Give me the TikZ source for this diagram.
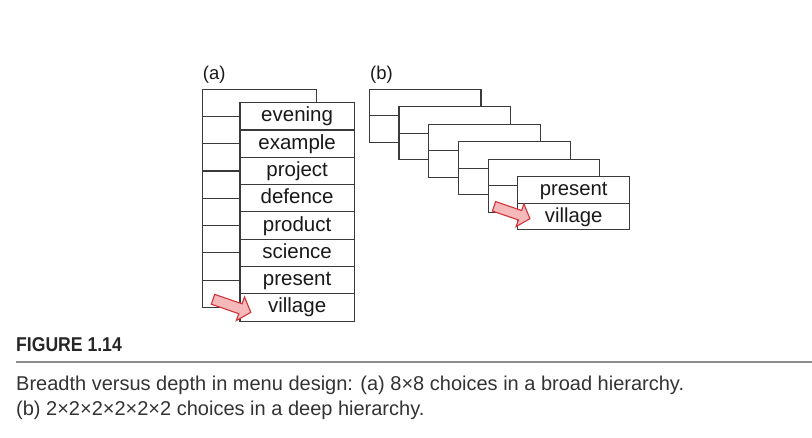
\documentclass[tikz,border=0pt]{standalone}
\usepackage{fontspec}
\setmainfont{Liberation Sans}
\newfontfamily\figfont[FakeStretch=0.88]{Liberation Sans}
\begin{document}
\definecolor{boxline}{HTML}{3A3A3A}
\definecolor{arrowfill}{HTML}{F5B9B9}
\definecolor{arrowline}{HTML}{D3323A}
\definecolor{captext}{HTML}{333333}
\definecolor{rulegray}{HTML}{8C8C8C}
\begin{tikzpicture}[x=1pt,y=-1pt,
  panel/.style={draw=boxline,line width=1.1pt,fill=white,inner sep=0pt,rectangle},
  itema/.style={panel,minimum width=114.3pt,minimum height=27.3pt,
     font=\fontsize{20.5}{24}\selectfont,text=black!90,text height=13pt,text depth=2pt},
  itemb/.style={panel,minimum width=111.7pt,minimum height=26.5pt,
     font=\fontsize{20.3}{24}\selectfont,text=black!90,text height=13pt,text depth=2pt},
  divider/.style={draw=boxline,line width=1.1pt},
  selarrow/.style={draw=arrowline,fill=arrowfill,line width=1.1pt,line join=miter},
  sublabel/.style={font=\fontsize{18.5}{22}\selectfont,text=black!90,inner sep=0pt,anchor=base west},
  captxt/.style={font=\fontsize{20}{24}\selectfont,text=captext,inner sep=0pt,anchor=base west}
]
\useasboundingbox (0,0) rectangle (812,437);

% ---------- (a) broad hierarchy ----------
\node[sublabel] (la) at (202.7,79) {(a)};
\node[panel,minimum width=114.4pt,minimum height=218.4pt] (aback) at (259.5,198.5) {};
\node[itema] (a1) at (297.15,116.35) {evening};
\node[itema] (a2) at (297.15,143.65) {example};
\node[itema] (a3) at (297.15,170.95) {project};
\node[itema] (a4) at (297.15,198.25) {defence};
\node[itema] (a5) at (297.15,225.55) {product};
\node[itema] (a6) at (297.15,252.85) {science};
\node[itema] (a7) at (297.15,280.15) {present};
\node[itema] (a8) at (297.15,307.45) {village};
\foreach \k in {1,...,7}{
  \draw[divider] (aback.west |- a\k) -- (a\k.west);
}
\coordinate (ta) at (213,299.3);
\begin{scope}[shift={(ta)},rotate=-19]
  \draw[selarrow] (0,-5.2) -- (29,-5.2) -- (29,-12.5) -- (40,0) -- (29,12.5) -- (29,5.2) -- (0,5.2) -- cycle;
\end{scope}

% ---------- (b) deep hierarchy ----------
\node[sublabel] (lb) at (370,79) {(b)};
\foreach \k in {0,...,4}{
  \node[panel,minimum width=111.7pt,minimum height=53pt] (b\k)
     at ({369.3+29.7*\k+55.85},{89.3+17.5*\k+26.5}) {};
  \draw[divider] (b\k.west) -- (b\k.east);
}
\node[itemb] (b5a) at (573.65,190.05) {present};
\node[itemb] (b5b) at (573.65,216.55) {village};
\coordinate (tb) at (494,206.3);
\begin{scope}[shift={(tb)},rotate=-19]
  \draw[selarrow] (0,-5) -- (27.5,-5) -- (27.5,-12) -- (38,0) -- (27.5,12) -- (27.5,5) -- (0,5) -- cycle;
\end{scope}

% ---------- caption ----------
\node[inner sep=0pt,anchor=base west,font=\figfont\bfseries\fontsize{20}{24}\selectfont,text=black!85] (fig) at (16,351.7) {FIGURE 1.14};
\coordinate (rl) at (16,361.7);
\coordinate (rr) at (812,361.7);
\draw[rulegray,line width=1.8pt] (rl) -- (rr);
\node[captxt] (cap1) at (16,390) {Breadth versus depth in menu design: (a) 8×8 choices in a broad hierarchy.};
\node[captxt] (cap2) at (16,415) {(b) 2×2×2×2×2×2 choices in a deep hierarchy.};
\end{tikzpicture}
\end{document}
